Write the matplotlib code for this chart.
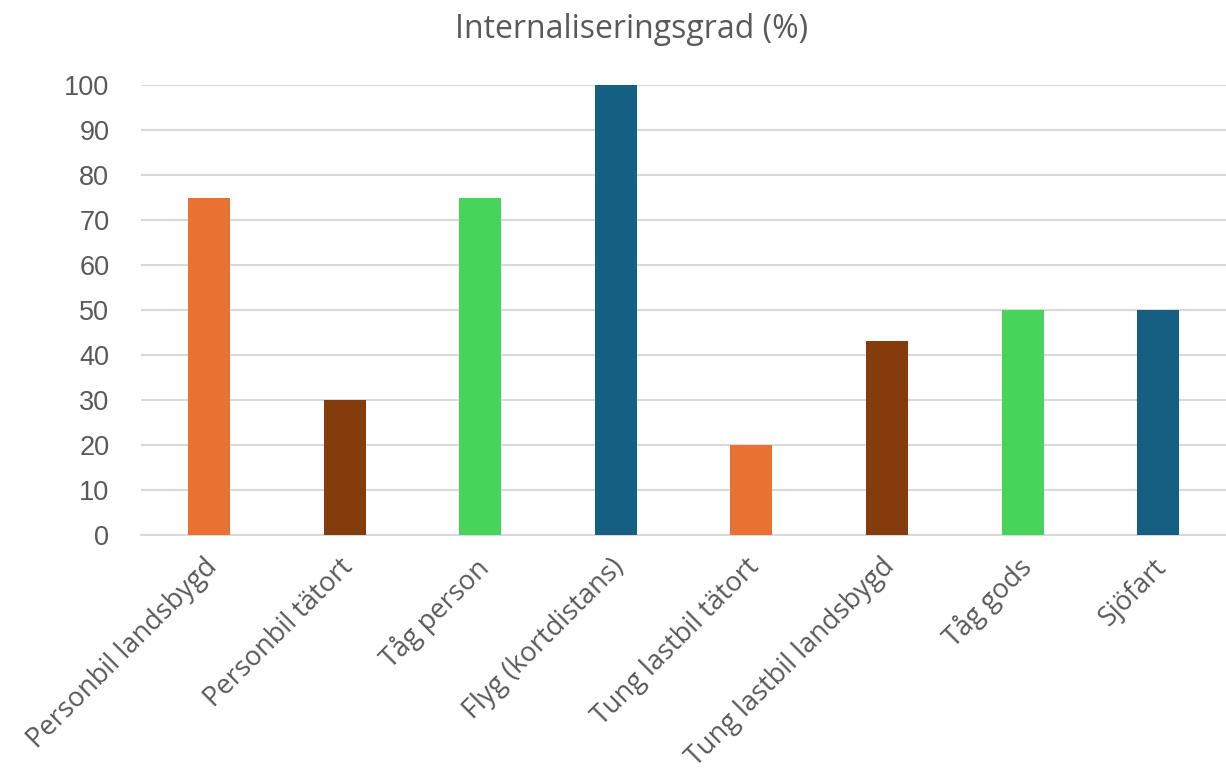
import numpy as np
import matplotlib
matplotlib.use('Agg')
import matplotlib.pyplot as plt
import matplotlib.transforms as mtransforms

# Data
categories = ['Personbil landsbygd', 'Personbil tätort', 'Tåg person', 'Flyg (kortdistans)',
              'Tung lastbil tätort', 'Tung lastbil landsbygd', 'Tåg gods', 'Sjöfart']
values = [75, 30, 75, 100, 20, 43, 50, 50]
colors = ['#E97132', '#843C0C', '#47D45A', '#156082',
          '#E97132', '#843C0C', '#47D45A', '#156082']
yticks = list(range(0, 101, 10))
title = 'Internaliseringsgrad (%)'

plt.rcParams['font.family'] = ['Open Sans', 'DejaVu Sans']
text_color = '#595959'

fig = plt.figure(figsize=(12.26, 7.73), dpi=100)
ax = fig.add_axes([0.1152, 0.308, 0.8848, 0.582])

x = np.arange(len(categories))
ax.bar(x, values, width=0.31, color=colors, zorder=3, clip_on=False)

ax.set_xlim(-0.5, len(categories) - 0.5)
ax.set_ylim(0, 100)
ax.set_yticks(yticks)
ax.set_yticklabels([str(t) for t in yticks], fontsize=19.5, color=text_color,
                   family='Liberation Sans')
ax.yaxis.grid(True, color='#D9D9D9', linewidth=1.5, zorder=0)
ax.set_axisbelow(True)

ax.set_xticks(x)
ax.set_xticklabels(categories, rotation=45, ha='right', rotation_mode='anchor',
                   fontsize=19.5, color=text_color)
ax.tick_params(axis='both', length=0)
ax.tick_params(axis='x', pad=13)
ax.tick_params(axis='y', pad=23)

# nudge category labels slightly left
offset = mtransforms.ScaledTranslation(-0.06, 0, fig.dpi_scale_trans)
for lab in ax.get_xticklabels():
    lab.set_transform(lab.get_transform() + offset)

for s in ['top', 'right', 'left']:
    ax.spines[s].set_visible(False)
ax.spines['bottom'].set_color('#D9D9D9')
ax.spines['bottom'].set_linewidth(1.5)

fig.text(0.515, 0.962, title, ha='center', va='center', fontsize=23, color=text_color)

fig.savefig('out.png', dpi=100)
